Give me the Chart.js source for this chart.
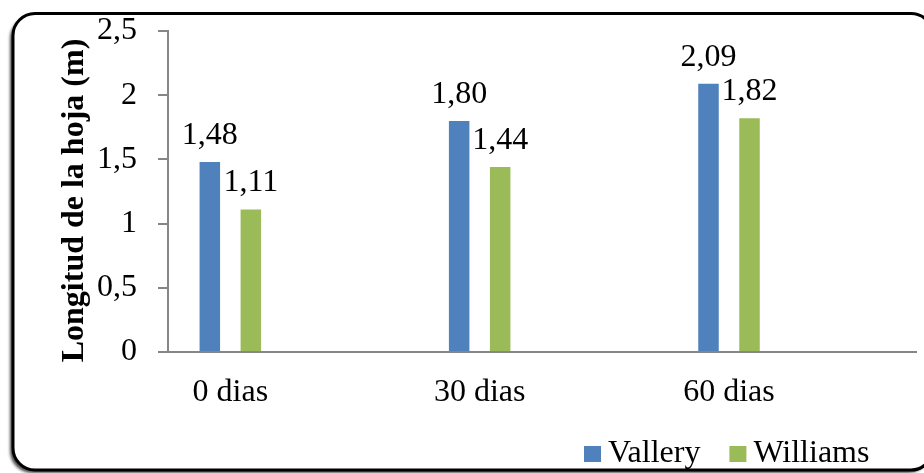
<!DOCTYPE html>
<html>
<head>
<meta charset="utf-8">
<script src="https://cdn.jsdelivr.net/npm/chart.js@4/dist/chart.umd.min.js"></script>
<style>
  html, body { margin: 0; padding: 0; background: #fff; }
  canvas { display: block; }
</style>
</head>
<body>
<canvas id="c" width="924" height="473"></canvas>
<script>
// Leaf length by variety and sampling day
const categories = ['0 dias', '30 dias', '60 dias'];
const seriesNames = ['Vallery', 'Williams'];
const vallery = [1.48, 1.80, 2.09];
const williams = [1.11, 1.44, 1.82];
const yTicks = [0, 0.5, 1, 1.5, 2, 2.5];
const yTitle = 'Longitud de la hoja (m)';
const seriesColors = ['#4F81BD', '#9BBB59'];

const SERIF = "'Liberation Serif', 'Times New Roman', serif";
const FS = 32;
const AXIS_GREY = '#868686';

const decimalComma = v => String(v).replace('.', ',');
const valueText = v => v.toFixed(2).replace('.', ',');

const toPoints = arr => arr.map((y, i) => ({ x: i, y }));

// Rounded frame with a soft drop shadow around the whole chart
const framePlugin = {
  id: 'frame',
  beforeDraw(chart) {
    const ctx = chart.ctx;
    ctx.save();
    ctx.fillStyle = '#fff';
    ctx.fillRect(0, 0, chart.width, chart.height);
    ctx.beginPath();
    ctx.roundRect(13, 13.5, 920, 456.5, 22);
    ctx.shadowColor = 'rgba(0,0,0,0.7)';
    ctx.shadowBlur = 3;
    ctx.shadowOffsetX = -3;
    ctx.shadowOffsetY = 3;
    ctx.fillStyle = '#fff';
    ctx.fill();
    ctx.shadowColor = 'transparent';
    ctx.lineWidth = 3;
    ctx.strokeStyle = '#000';
    ctx.stroke();
    ctx.restore();
  }
};

// Vertical axis title, centred a little below the plot's midline
const axisTitlePlugin = {
  id: 'axisTitle',
  afterDraw(chart) {
    const ctx = chart.ctx;
    const area = chart.chartArea;
    ctx.save();
    ctx.translate(74.5, (area.top + area.bottom) / 2 + 9);
    ctx.rotate(-Math.PI / 2);
    ctx.font = `bold ${FS}px ${SERIF}`;
    ctx.fillStyle = '#000';
    ctx.textAlign = 'center';
    ctx.textBaseline = 'middle';
    ctx.fillText(yTitle, 0, 0);
    ctx.restore();
  }
};

// Value labels above each bar
const valueLabelPlugin = {
  id: 'valueLabels',
  afterDatasetsDraw(chart) {
    const ctx = chart.ctx;
    ctx.save();
    ctx.font = `${FS}px ${SERIF}`;
    ctx.fillStyle = '#000';
    ctx.textAlign = 'center';
    ctx.textBaseline = 'alphabetic';
    chart.data.datasets.forEach((ds, di) => {
      const meta = chart.getDatasetMeta(di);
      meta.data.forEach((bar, i) => {
        ctx.fillText(valueText(ds.data[i].y), bar.x, bar.y - 18);
      });
    });
    ctx.restore();
  }
};

// Legend in the lower right corner
const legendPlugin = {
  id: 'cornerLegend',
  afterDraw(chart) {
    const ctx = chart.ctx;
    ctx.save();
    ctx.font = `${FS}px ${SERIF}`;
    ctx.textBaseline = 'alphabetic';
    ctx.textAlign = 'left';
    const boxW = 17, boxH = 16, gap = 7, spacing = 29, baseline = 462;
    let x = 584;
    chart.data.datasets.forEach(ds => {
      ctx.fillStyle = ds.backgroundColor;
      ctx.fillRect(x, baseline - boxH, boxW, boxH);
      x += boxW + gap;
      ctx.fillStyle = '#000';
      ctx.fillText(ds.label, x, baseline);
      x += ctx.measureText(ds.label).width + spacing;
    });
    ctx.restore();
  }
};

new Chart(document.getElementById('c'), {
  type: 'bar',
  data: {
    datasets: [
      { label: seriesNames[0], data: toPoints(vallery), backgroundColor: seriesColors[0] },
      { label: seriesNames[1], data: toPoints(williams), backgroundColor: seriesColors[1] }
    ]
  },
  options: {
    responsive: false,
    animation: false,
    devicePixelRatio: 1,
    categoryPercentage: 0.329,
    barPercentage: 0.5,
    layout: { padding: { top: 31, right: 8, bottom: 0, left: 0 } },
    plugins: {
      legend: { display: false },
      tooltip: { enabled: false }
    },
    scales: {
      x: {
        type: 'linear',
        offset: false,
        min: -0.25,
        max: 2.75,
        afterBuildTicks(scale) {
          scale.ticks = categories.map((_, i) => ({ value: i }));
        },
        afterFit(scale) { scale.height = 121; },
        grid: { display: false, drawTicks: false },
        border: { display: true, color: AXIS_GREY, width: 2 },
        ticks: {
          padding: 21,
          color: '#000',
          font: { family: SERIF, size: FS },
          callback: v => categories[v] ?? ''
        }
      },
      y: {
        min: 0,
        max: 2.5,
        afterBuildTicks(scale) {
          scale.ticks = yTicks.map(v => ({ value: v }));
        },
        afterFit(scale) {
          scale.width = 168;
          scale.paddingTop = 10;
          scale.paddingBottom = 10;
        },
        grid: {
          drawOnChartArea: false,
          drawTicks: true,
          tickLength: 10,
          color: AXIS_GREY,
          lineWidth: 2
        },
        border: { display: true, color: AXIS_GREY, width: 2 },
        ticks: {
          padding: 21,
          color: '#000',
          font: { family: SERIF, size: FS },
          callback: v => decimalComma(v)
        }
      }
    }
  },
  plugins: [framePlugin, valueLabelPlugin, legendPlugin, axisTitlePlugin]
});
</script>
</body>
</html>
